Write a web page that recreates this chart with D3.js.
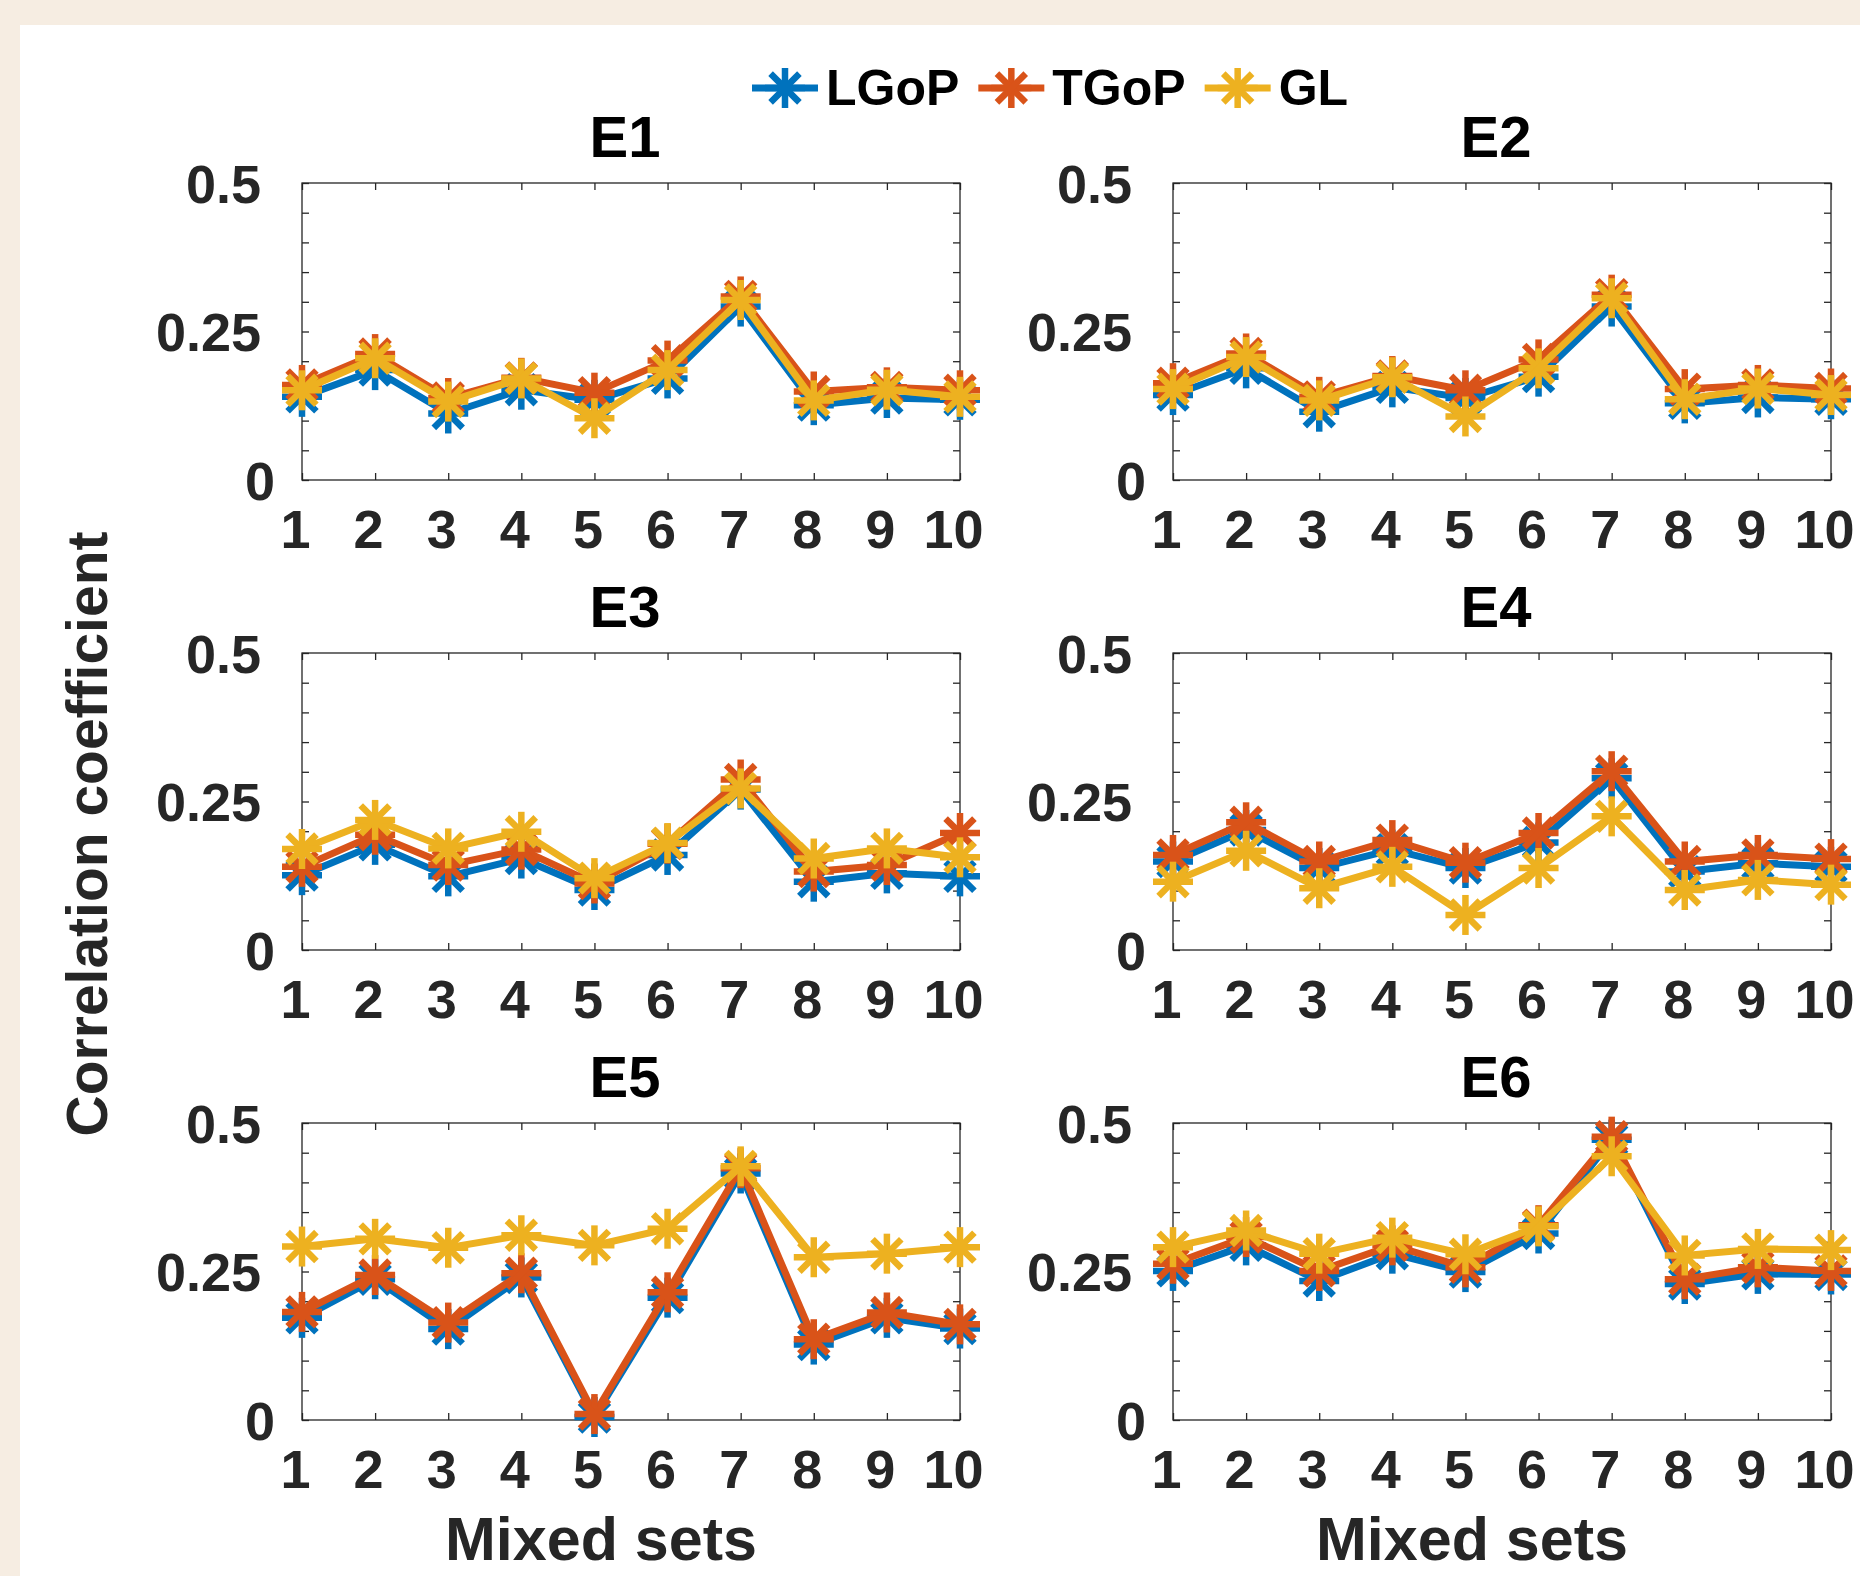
<!DOCTYPE html>
<html>
<head>
<meta charset="utf-8">
<script src="https://d3js.org/d3.v7.min.js"></script>
<style>
    body { margin: 0; background: #f6ede2; }
    svg { display: block; }
    text { font-family: "Liberation Sans", Arial, Helvetica, sans-serif; font-weight: bold; }
</style>
</head>
<body>
<svg id="chart" width="1860" height="1576"></svg>
<script>
'use strict';

// chart data
var seriesNames = ["LGoP", "TGoP", "GL"];
var seriesColors = ["#0072BD", "#D95319", "#EDB120"];
var panelTitles = ["E1", "E2", "E3", "E4", "E5", "E6"];
var mixedSets = [1, 2, 3, 4, 5, 6, 7, 8, 9, 10];
var yTicks = [0, 0.05, 0.1, 0.15, 0.2, 0.25, 0.3, 0.35, 0.4, 0.45, 0.5];
var yTickLabels = [0, 0.25, 0.5];

var e1LGoP = [0.140, 0.185, 0.112, 0.152, 0.135, 0.171, 0.292, 0.126, 0.138, 0.135];
var e1TGoP = [0.160, 0.212, 0.138, 0.172, 0.147, 0.201, 0.309, 0.149, 0.156, 0.151];
var e1GL   = [0.151, 0.205, 0.132, 0.171, 0.104, 0.185, 0.303, 0.134, 0.152, 0.140];

var e2LGoP = [0.143, 0.188, 0.115, 0.156, 0.138, 0.174, 0.292, 0.129, 0.139, 0.136];
var e2TGoP = [0.163, 0.213, 0.140, 0.175, 0.151, 0.203, 0.312, 0.153, 0.160, 0.154];
var e2GL   = [0.153, 0.207, 0.134, 0.173, 0.107, 0.188, 0.306, 0.136, 0.154, 0.143];

var e3LGoP = [0.126, 0.177, 0.124, 0.154, 0.101, 0.160, 0.270, 0.115, 0.129, 0.124];
var e3TGoP = [0.140, 0.194, 0.143, 0.169, 0.112, 0.179, 0.287, 0.132, 0.143, 0.197];
var e3GL   = [0.170, 0.219, 0.171, 0.199, 0.121, 0.180, 0.272, 0.154, 0.171, 0.156];

var e4LGoP = [0.149, 0.202, 0.138, 0.169, 0.138, 0.181, 0.289, 0.132, 0.146, 0.140];
var e4TGoP = [0.160, 0.215, 0.149, 0.185, 0.147, 0.197, 0.301, 0.149, 0.160, 0.153];
var e4GL   = [0.115, 0.167, 0.104, 0.140, 0.059, 0.138, 0.225, 0.101, 0.118, 0.110];

var e5LGoP = [0.172, 0.237, 0.153, 0.240, 0.005, 0.206, 0.415, 0.127, 0.172, 0.154];
var e5TGoP = [0.182, 0.244, 0.164, 0.247, 0.010, 0.215, 0.424, 0.136, 0.181, 0.161];
var e5GL   = [0.292, 0.305, 0.290, 0.311, 0.294, 0.322, 0.427, 0.274, 0.280, 0.291];

var e6LGoP = [0.251, 0.294, 0.234, 0.280, 0.249, 0.314, 0.472, 0.229, 0.246, 0.245];
var e6TGoP = [0.263, 0.308, 0.251, 0.294, 0.257, 0.328, 0.477, 0.237, 0.257, 0.251];
var e6GL   = [0.291, 0.319, 0.280, 0.307, 0.279, 0.326, 0.444, 0.277, 0.288, 0.286];

var panelSeries = [
    [e1LGoP, e1TGoP, e1GL],
    [e2LGoP, e2TGoP, e2GL],
    [e3LGoP, e3TGoP, e3GL],
    [e4LGoP, e4TGoP, e4GL],
    [e5LGoP, e5TGoP, e5GL],
    [e6LGoP, e6TGoP, e6GL]
];

// layout
var colX = [302, 1173],
    rowY = [183, 653, 1123],
    plotW = 658,
    plotH = 297,
    axisColor = "#262626",
    markerR = 20;

var svg = d3.select("#chart");

// white figure panel on the beige page
svg.append("rect")
    .attr("x", 20).attr("y", 25)
    .attr("width", 1860).attr("height", 1576)
    .attr("fill", "#fff");

var x = d3.scaleLinear().domain([1, 10]).range([0, plotW]);
var y = d3.scaleLinear().domain([0, 0.5]).range([plotH, 0]);

var line = d3.line()
    .x(function(d, i) { return x(mixedSets[i]); })
    .y(function(d) { return y(d); });

function drawAsterisk(g, cx, cy, color, r) {
    var k = r * 0.72;
    var segs = [[-r, 0, r, 0], [0, -r, 0, r], [-k, -k, k, k], [-k, k, k, -k]];
    segs.forEach(function(s) {
        g.append("line")
            .attr("x1", cx + s[0]).attr("y1", cy + s[1])
            .attr("x2", cx + s[2]).attr("y2", cy + s[3])
            .attr("stroke", color)
            .attr("stroke-width", 6.5);
    });
}

panelTitles.forEach(function(title, p) {
    var col = p % 2, row = Math.floor(p / 2);
    var g = svg.append("g")
        .attr("transform", "translate(" + colX[col] + "," + rowY[row] + ")");

    // ticks on all four sides, pointing inward
    var bottom = g.append("g").attr("transform", "translate(0," + plotH + ")")
        .call(d3.axisBottom(x).tickValues(mixedSets).tickSize(-7).tickSizeOuter(0).tickPadding(30));
    g.append("g")
        .call(d3.axisTop(x).tickValues(mixedSets).tickSize(-7).tickSizeOuter(0).tickFormat(""));
    var left = g.append("g")
        .call(d3.axisLeft(y).tickValues(yTicks).tickSize(-7).tickSizeOuter(0).tickPadding(41)
            .tickFormat(function(v) { return yTickLabels.indexOf(v) >= 0 ? String(v) : ""; }));
    g.append("g").attr("transform", "translate(" + plotW + ",0)")
        .call(d3.axisRight(y).tickValues(yTicks).tickSize(-7).tickSizeOuter(0).tickFormat(""));

    g.selectAll(".domain").remove();
    g.selectAll(".tick line").attr("stroke", axisColor).attr("stroke-width", 1.3);

    bottom.selectAll("text")
        .attr("x", -7)
        .attr("fill", axisColor)
        .style("font-size", "54px");
    left.selectAll("text")
        .attr("x", function(v) { return v === 0 ? -27 : -41; })
        .attr("dy", "0.36em")
        .attr("fill", axisColor)
        .style("font-size", "54px");

    g.append("rect")
        .attr("width", plotW).attr("height", plotH)
        .attr("fill", "none")
        .attr("stroke", axisColor)
        .attr("stroke-width", 1.3);

    g.append("text")
        .attr("x", plotW / 2 - 6).attr("y", -26)
        .attr("text-anchor", "middle")
        .style("font-size", "58px")
        .attr("fill", "#000")
        .text(title);

    panelSeries[p].forEach(function(vals, s) {
        g.append("path")
            .datum(vals)
            .attr("d", line)
            .attr("fill", "none")
            .attr("stroke", seriesColors[s])
            .attr("stroke-width", 7)
            .attr("stroke-linejoin", "miter");
        vals.forEach(function(v, i) {
            drawAsterisk(g, x(mixedSets[i]), y(v), seriesColors[s], markerR);
        });
    });

    if (row === 2) {
        g.append("text")
            .attr("x", plotW / 2 - 30).attr("y", 1560 - rowY[row])
            .attr("text-anchor", "middle")
            .attr("fill", axisColor)
            .style("font-size", "61px")
            .text("Mixed sets");
    }
});

svg.append("text")
    .attr("transform", "translate(107,834) rotate(-90)")
    .attr("text-anchor", "middle")
    .attr("fill", axisColor)
    .style("font-size", "57px")
    .text("Correlation coefficient");

// legend
var lx = 752;
seriesNames.forEach(function(name, s) {
    var lg = svg.append("g");
    lg.append("line")
        .attr("x1", lx).attr("x2", lx + 66)
        .attr("y1", 88).attr("y2", 88)
        .attr("stroke", seriesColors[s])
        .attr("stroke-width", 7);
    drawAsterisk(lg, lx + 33, 88, seriesColors[s], markerR);
    var t = lg.append("text")
        .attr("x", lx + 74).attr("y", 105)
        .attr("fill", "#000")
        .style("font-size", "50px")
        .text(name);
    lx = lx + 74 + t.node().getComputedTextLength() + 19;
});
</script>
</body>
</html>
